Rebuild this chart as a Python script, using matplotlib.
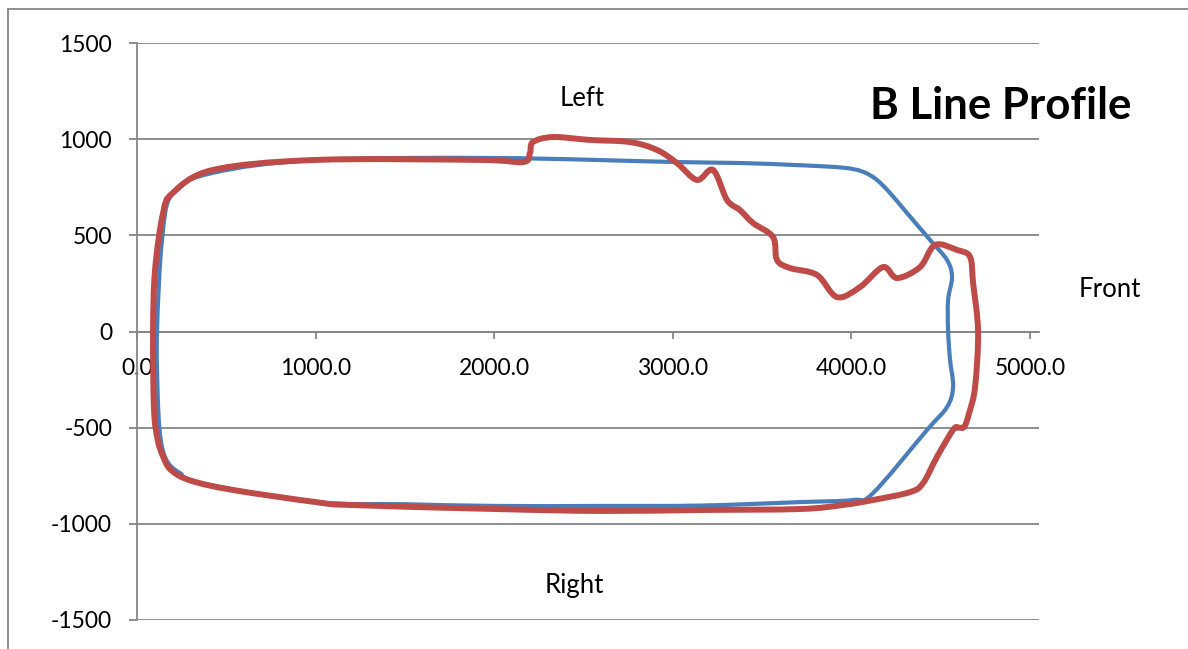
import matplotlib
matplotlib.use("Agg")
import numpy as np
import matplotlib.pyplot as plt
from matplotlib.lines import Line2D
from matplotlib.path import Path
from matplotlib.patches import PathPatch

plt.rcParams['font.family'] = ['Lato', 'DejaVu Sans']
plt.rcParams['axes.unicode_minus'] = False

# blue profile (reference), traced clockwise from the left side, closed loop
blue_x = [112, 140, 200, 425, 1002, 2010, 3018, 3376, 3700, 3950, 4060, 4140,
          4216, 4311, 4440, 4535, 4563, 4541, 4541, 4552, 4569, 4535, 4423,
          4121, 4009, 3712, 3152, 2592, 2010, 1500, 1002, 353, 241, 180, 145,
          125, 115]
blue_y = [0, 475, 720, 825, 892, 902, 881, 876, 865, 852, 832, 790,
          720, 616, 476, 372, 283, 164, 8, -148, -289, -393, -512,
          -840, -876, -887, -905, -907, -907, -898, -887, -788, -736, -690,
          -620, -500, -300]

# red profile (measured), traced clockwise from the left side, closed loop
red_x = [90, 101, 146, 200, 425, 1002, 1920, 2161, 2200, 2217, 2329, 2536,
         2760, 2911, 3023, 3135, 3225, 3303, 3376, 3449, 3561, 3583, 3656,
         3807, 3919, 4048, 4177, 4255, 4384, 4468, 4591, 4664, 4681, 4709,
         4692, 4660, 4632, 4600, 4570, 4480, 4401, 4328, 4121, 3953, 3712,
         3152, 2592, 2010, 1193, 1002, 537, 300, 190, 146, 115, 95]
red_y = [0, 319, 616, 720, 840, 892, 892, 881, 928, 985, 1011, 996,
         985, 944, 876, 788, 840, 684, 631, 564, 491, 372, 330,
         294, 179, 231, 335, 278, 335, 450, 424, 388, 252, 0,
         -289, -420, -495, -500, -510, -650, -788, -835, -876, -902, -923,
         -928, -933, -923, -902, -887, -824, -775, -720, -650, -560, -400]

y_ticks = [-1500, -1000, -500, 0, 500, 1000, 1500]
x_ticks = [0, 1000, 2000, 3000, 4000, 5000]

grey = '#868686'


def smooth_loop(xs, ys):
    # Excel-style smoothed line: cubic Bezier segments through every point
    p = np.column_stack([xs, ys]).astype(float)
    n = len(p)
    verts = [p[0]]
    codes = [Path.MOVETO]
    for i in range(n):
        p0, p1 = p[i - 1], p[i]
        p2, p3 = p[(i + 1) % n], p[(i + 2) % n]
        verts += [p1 + (p2 - p0) / 6, p2 - (p3 - p1) / 6, p2]
        codes += [Path.CURVE4] * 3
    return Path(verts, codes)


fig = plt.figure(figsize=(11.88, 6.49), dpi=100)
ax = fig.add_axes([137 / 1188, 29 / 649, 902 / 1188, 577 / 649])

ax.add_patch(PathPatch(smooth_loop(blue_x, blue_y), facecolor='none',
                       edgecolor='#4A7EBB', lw=3.0, joinstyle='round',
                       zorder=3))
ax.add_patch(PathPatch(smooth_loop(red_x, red_y), facecolor='none',
                       edgecolor='#BE4B48', lw=4.3, joinstyle='round',
                       zorder=4))

ax.set_xlim(0, 5050)
ax.set_ylim(-1500, 1500)
ax.set_yticks(y_ticks)
ax.set_xticks(x_ticks)
ax.set_xticklabels(['%.1f' % v for v in x_ticks])
ax.yaxis.grid(True, color=grey, lw=1.3)
ax.set_axisbelow(True)

for s in ['top', 'right']:
    ax.spines[s].set_visible(False)
ax.spines['bottom'].set_position(('data', 0))
ax.spines['bottom'].set_color(grey)
ax.spines['left'].set_color(grey)
ax.spines['bottom'].set_linewidth(1.3)
ax.spines['left'].set_linewidth(1.3)
ax.tick_params(axis='y', direction='out', length=6, width=1.3, color=grey,
               labelsize=16.5, pad=12)
ax.tick_params(axis='x', direction='out', length=5, width=1.3, color=grey,
               labelsize=16.5, pad=14)

ax.text(2492, 1214, 'Left', ha='center', va='center', fontsize=18.5)
ax.text(4104, 1172, 'B Line Profile', ha='left', va='center', fontsize=31.5,
        fontweight='bold')
ax.text(5448, 216, 'Front', ha='center', va='center', fontsize=18.5,
        clip_on=False)
ax.text(2450, -1320, 'Right', ha='center', va='center', fontsize=18.5)

# outer chart frame (only top and left edges are in view)
fig.add_artist(Line2D([8 / 1188, 8 / 1188], [0, 1 - 9 / 649],
                      transform=fig.transFigure, color=grey, lw=1.3))
fig.add_artist(Line2D([8 / 1188, 1], [1 - 9 / 649, 1 - 9 / 649],
                      transform=fig.transFigure, color=grey, lw=1.3))

fig.savefig('out.png', dpi=100)
